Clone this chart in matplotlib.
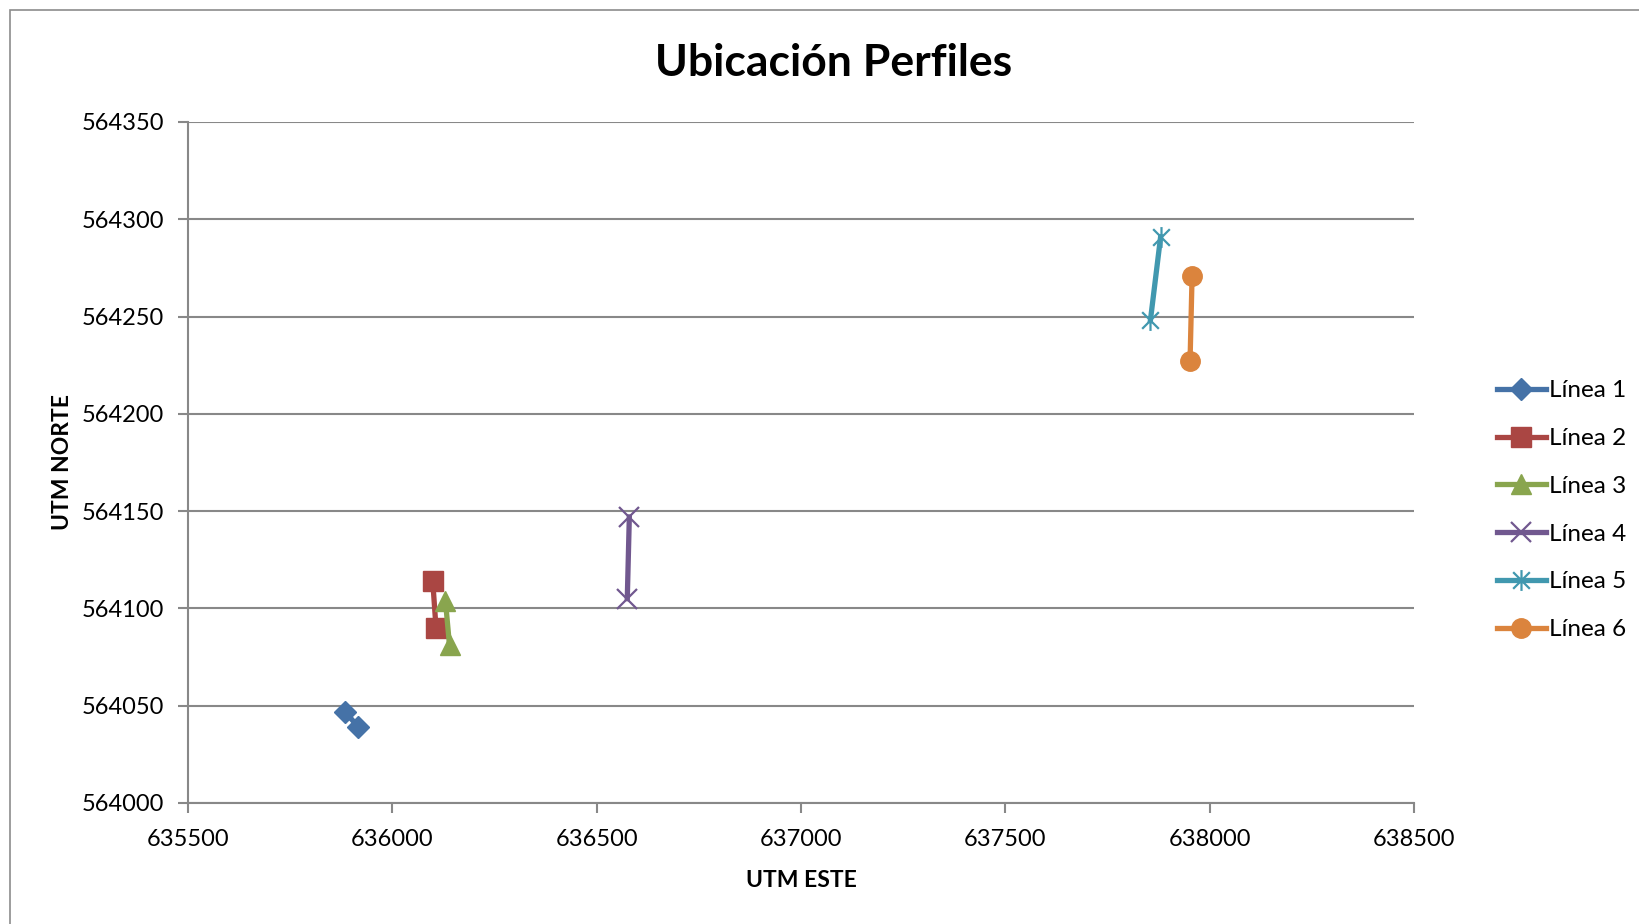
import matplotlib
matplotlib.use("Agg")
import matplotlib.pyplot as plt
from matplotlib.path import Path
from matplotlib.patches import Rectangle

# profile end points (UTM este, UTM norte)
series_names = ["Línea 1", "Línea 2", "Línea 3", "Línea 4", "Línea 5", "Línea 6"]
este = [
    [635884, 635917],
    [636099, 636107],
    [636130, 636140],
    [636580, 636575],
    [637880, 637855],
    [637957, 637952],
]
norte = [
    [564047, 564039],
    [564114, 564090],
    [564104, 564081],
    [564147, 564105],
    [564291, 564248],
    [564271, 564227],
]
x_ticks = [635500, 636000, 636500, 637000, 637500, 638000, 638500]
y_ticks = [564000, 564050, 564100, 564150, 564200, 564250, 564300, 564350]

colors = ['#4572A7', '#AA4643', '#89A54E', '#71588F', '#4198AF', '#DB843D']

star = Path([(0, -1), (0, 1), (-0.8, -0.8), (0.8, 0.8), (-0.8, 0.8), (0.8, -0.8)],
            [Path.MOVETO, Path.LINETO, Path.MOVETO, Path.LINETO, Path.MOVETO, Path.LINETO])
markers = ['D', 's', '^', 'x', star, 'o']
msizes = [11, 14, 14, 14, 15, 14]

plt.rcParams['font.family'] = ['Lato', 'DejaVu Sans']

fig = plt.figure(figsize=(16.4, 9.24), dpi=100)
fig.patches.append(Rectangle((10 / 1640, -0.1), 1.2, 1 - 10 / 924 + 0.1,
                             transform=fig.transFigure, fill=False,
                             edgecolor='#8c8c8c', linewidth=1.2))
ax = fig.add_axes([0.1146, 0.131, 0.7476, 0.737])

for i, name in enumerate(series_names):
    filled = i not in (3, 4)
    ax.plot(este[i], norte[i], color=colors[i], linewidth=3.8,
            marker=markers[i], markersize=msizes[i],
            markerfacecolor=colors[i] if filled else 'none',
            markeredgecolor=colors[i], markeredgewidth=1 if filled else 1.6,
            label=name, zorder=3)

ax.set_xlim(635500, 638500)
ax.set_ylim(564000, 564350)
ax.set_xticks(x_ticks)
ax.set_yticks(y_ticks)
ax.tick_params(labelsize=17, length=7, color='#888888', width=1.5)
ax.tick_params(axis='x', pad=12)
ax.tick_params(axis='y', pad=10)
ax.grid(axis='y', color='#888888', linewidth=1.5)
ax.set_axisbelow(True)
for s in ['top', 'right']:
    ax.spines[s].set_visible(False)
for s in ['left', 'bottom']:
    ax.spines[s].set_color('#888888')
    ax.spines[s].set_linewidth(1.5)

ax.set_xlabel('UTM ESTE', fontsize=16.5, fontweight='bold', labelpad=14)
ax.set_ylabel('UTM NORTE', fontsize=16.5, fontweight='bold', labelpad=6)
fig.suptitle('Ubicación Perfiles', fontsize=32, fontweight='bold', x=0.508, y=0.953)

ax.legend(loc='center left', bbox_to_anchor=(1.05, 0.43), frameon=False,
          fontsize=17.5, handlelength=2.0, handletextpad=0.15, labelspacing=1.1)

fig.savefig('out.png', dpi=100)
